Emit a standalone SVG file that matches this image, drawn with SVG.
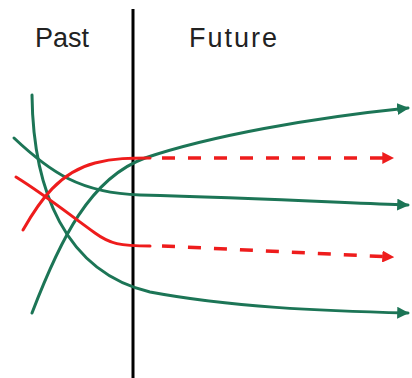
<svg xmlns="http://www.w3.org/2000/svg" width="412" height="378" viewBox="0 0 412 378">
<style>
.g{fill:none;stroke:#1c7556;stroke-width:3;stroke-linecap:round}
.r{fill:none;stroke:#ee1c1c;stroke-width:3;stroke-linecap:round}
.rd{fill:none;stroke:#ee1c1c;stroke-width:3.5;stroke-dasharray:13 13}
.t{font-family:"Liberation Sans",Arial,sans-serif;font-size:27px;fill:#222}
</style>
<defs>
<marker id="ag" viewBox="0 0 10 10" refX="9" refY="5" markerWidth="4" markerHeight="4" orient="auto" markerUnits="strokeWidth"><path d="M0,0 L10,5 L0,10 z" fill="#1c7556"/></marker>
<marker id="ar" viewBox="0 0 10 10" refX="9" refY="5" markerWidth="3.4" markerHeight="3.4" orient="auto" markerUnits="strokeWidth"><path d="M0,0 L10,5 L0,10 z" fill="#ee1c1c"/></marker>
</defs>
<g id="labels">
<text class="t" x="35" y="47">Past</text>
<text class="t" x="189" y="47" textLength="88" lengthAdjust="spacing">Future</text>
</g>
<g id="divider"><line x1="133" y1="9" x2="133" y2="378" stroke="#000" stroke-width="3"/></g>
<g id="connectors">
<path class="g" d="M32,95 C33,190 65,272 150,292 C230,307 320,311 408,313" marker-end="url(#ag)"/>
<path class="g" d="M14,138 C50,172 80,193 140,195 C250,198 330,202 408,205" marker-end="url(#ag)"/>
<path class="g" d="M32,313 C60,240 90,178 145,158 C210,136 310,118 408,108" marker-end="url(#ag)"/>
<path class="r" d="M23,230 C40,200 60,172 95,163 C115,158 130,158 150,158"/>
<path class="r" d="M16,177 C45,195 70,215 95,233 C110,244 120,246 150,246"/>
<path class="rd" d="M162,158 L393,158" marker-end="url(#ar)"/>
<path class="rd" d="M162,246 L393,257" marker-end="url(#ar)"/>
</g>
</svg>
